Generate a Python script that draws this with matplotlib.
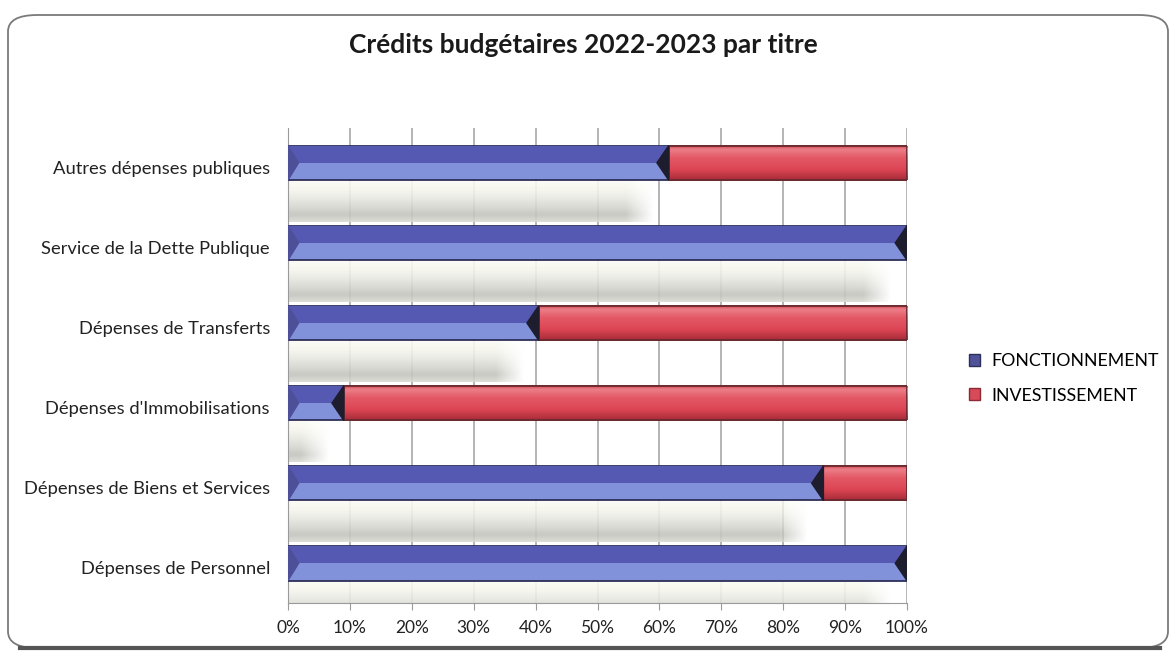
import matplotlib
matplotlib.use("Agg")
import matplotlib.pyplot as plt
from matplotlib.patches import Polygon, Patch, FancyBboxPatch
from matplotlib.colors import to_rgb
import numpy as np

plt.rcParams["font.family"] = ["Lato", "DejaVu Sans"]

C_BLUE_TOP = "#5659b2"
C_BLUE_LOW = "#8191da"
C_BLUE_EDGE = "#2e2f58"
C_RED = "#df4756"
C_RED_EDGE = "#6a2a30"

categories = ["Autres dépenses publiques", "Service de la Dette Publique",
              "Dépenses de Transferts", "Dépenses d'Immobilisations",
              "Dépenses de Biens et Services", "Dépenses de Personnel"]
fonctionnement = [61.5, 100.0, 40.5, 9.0, 86.5, 100.0]
investissement = [38.5, 0.0, 59.5, 91.0, 13.5, 0.0]
xticks = [0, 10, 20, 30, 40, 50, 60, 70, 80, 90, 100]
xticklabels = [f"{t}%" for t in xticks]

fig = plt.figure(figsize=(11.76, 6.58), dpi=100)
ax = fig.add_axes([288 / 1176, 1 - 603 / 658, 619 / 1176, 475 / 658])

ypos = np.arange(len(categories))
h = 0.43
yb = ypos - 0.055          # bars sit a little above the category centre
top = yb - h / 2
bot = yb + h / 2

# soft grey shadow under each FONCTIONNEMENT bar
for y0, v in zip(bot, fonctionnement):
    end = v - 2.5
    W, H = 300, 40
    xs = np.linspace(0, end, W)
    t = np.linspace(0, 1, H)[:, None]
    g = 0.985 - 0.21 * np.clip(t / 0.8, 0, 1) ** 1.6 + 0.08 * np.clip((t - 0.85) / 0.15, 0, 1)
    a = np.clip((end - xs) / 4.5, 0, 1)[None, :] * np.ones((H, 1))
    img = np.zeros((H, W, 4))
    img[..., 0] = g
    img[..., 1] = g
    img[..., 2] = g * 0.97
    img[..., 3] = a * 0.9
    ax.imshow(img, extent=(0, end, y0 + 0.52, y0 + 0.01), aspect="auto",
              interpolation="bilinear", zorder=1)

# FONCTIONNEMENT: bevelled blue bars
ax.barh(yb, fonctionnement, height=h, color=C_BLUE_LOW, edgecolor=C_BLUE_EDGE,
        lw=1.3, zorder=3)
ax.barh(yb - h / 4, fonctionnement, height=h / 2, color=C_BLUE_TOP, lw=0, zorder=3)
d = 1.9
for t0, b0, v in zip(top, bot, fonctionnement):
    m = (t0 + b0) / 2
    ax.add_patch(Polygon([(v, t0), (v - d, m), (v, b0)], closed=True,
                         color="#1d1d2e", zorder=4))
    ax.add_patch(Polygon([(0, t0), (d * 0.9, m), (0, b0)], closed=True,
                         color="#4d5098", zorder=4))

# INVESTISSEMENT: red bars with a rounded vertical shading
has_inv = [i for i, v in enumerate(investissement) if v > 0]
inv_y = yb[has_inv]
inv_w = [investissement[i] for i in has_inv]
inv_l = [fonctionnement[i] for i in has_inv]
red_bars = ax.barh(inv_y, inv_w, left=inv_l, height=h, color=C_RED,
                   edgecolor=C_RED_EDGE, lw=1.3, zorder=3)
stops = [(0.0, "#c84452"), (0.12, "#ec7f89"), (0.35, "#e45a67"),
         (0.7, "#dc4553"), (1.0, "#a92d3a")]
tt = np.linspace(0, 1, 60)
grad = np.zeros((60, 1, 3))
for k in range(3):
    grad[:, 0, k] = np.interp(tt, [s[0] for s in stops],
                              [to_rgb(s[1])[k] for s in stops])
for p, yc, l, w in zip(red_bars.patches, inv_y, inv_l, inv_w):
    im = ax.imshow(grad, extent=(l, l + w, yc + h / 2, yc - h / 2), aspect="auto",
                   interpolation="bilinear", zorder=3.5)
    im.set_clip_path(p)
for p, l, w in zip(red_bars.patches, inv_l, inv_w):
    ax.add_patch(plt.Rectangle(p.get_xy(), w, h, fill=False,
                               edgecolor=C_RED_EDGE, lw=1.3, zorder=3.6))

ax.set_xlim(0, 100)
ax.set_ylim(5.44, -0.49)
ax.set_xticks(xticks)
ax.set_xticklabels(xticklabels, fontsize=12.5, color="#222222")
ax.set_yticks(ypos)
ax.set_yticklabels(categories, fontsize=13.2, color="#222222")
ax.tick_params(axis="y", length=0, pad=13)
ax.tick_params(axis="x", length=5, color="#9a9a9a", pad=7)
ax.grid(axis="x", color="#a0a0a0", lw=1.1, zorder=0)
ax.set_axisbelow(True)
for s in ["top", "right"]:
    ax.spines[s].set_visible(False)
ax.spines["left"].set_color("#9a9a9a")
ax.spines["bottom"].set_color("#9a9a9a")
ax.set_facecolor("none")

fig.text(0.496, 0.931, "Crédits budgétaires 2022-2023 par titre", ha="center",
         va="center", fontsize=19, fontweight="bold", color="#1a1a1a")

handles = [Patch(facecolor="#4f5299", edgecolor="#2e2f58", label="FONCTIONNEMENT"),
           Patch(facecolor="#d84a5a", edgecolor="#8a2a34", label="INVESTISSEMENT")]
fig.legend(handles=handles, loc="upper left", bbox_to_anchor=(960 / 1176, 1 - 344 / 658),
           frameon=False, fontsize=12.8, handlelength=0.65, handleheight=0.65,
           handletextpad=0.6, labelspacing=1.05, borderpad=0)

frame = FancyBboxPatch((8 / 1176, 1 - 648 / 658), 1160 / 1176, 633 / 658,
                       boxstyle="round,pad=0,rounding_size=0.025",
                       transform=fig.transFigure, facecolor="none",
                       edgecolor="#7a7a7a", lw=1.3, zorder=-1)
fig.patches.append(frame)
fig.add_artist(plt.Line2D([20 / 1176, 1160 / 1176], [1 - 648 / 658] * 2,
                          transform=fig.transFigure, color="#555555", lw=3))

fig.savefig("out.png", dpi=100)
